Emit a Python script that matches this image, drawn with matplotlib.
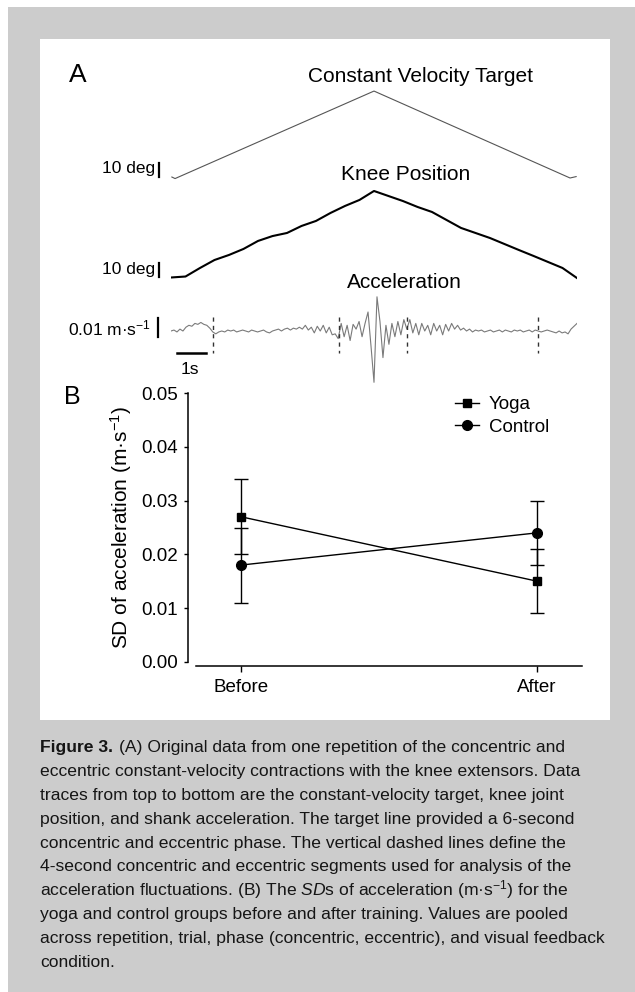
import numpy as np
import matplotlib
matplotlib.use('Agg')
import matplotlib.pyplot as plt
from matplotlib.patches import Rectangle
from matplotlib.lines import Line2D

plt.rcParams['font.family'] = ['Liberation Sans', 'DejaVu Sans']
plt.rcParams['mathtext.fontset'] = 'custom'
plt.rcParams['mathtext.rm'] = 'Liberation Sans'
plt.rcParams['mathtext.it'] = 'Liberation Sans:italic'
plt.rcParams['mathtext.bf'] = 'Liberation Sans:bold'

# ---------------- data: panel A ----------------
target_t = [0.03, 0.14, 7.0, 13.76, 13.97]          # s
target_deg = [0.7, -0.4, 62.1, 0.0, 1.0]            # deg

knee_dt = 0.5                                       # s
knee_deg = [0, 0.7, 6.8, 12.5, 16.1, 20.4, 26.1, 29.6, 31.8, 36.8, 40.4,
            46.1, 51.1, 55.4, 61.8, 58.2, 54.6, 50.4, 46.8, 41.1, 35.4,
            31.8, 28.2, 23.9, 19.6, 15.4, 11.1, 6.8, -0.4]

# acceleration in units of 0.001 m/s^2
accel = [0, 0.5, -0.5, 1, 0, 2, 3, 2.5, 4, 3.5, 4.5, 3.5, 3, 1.5,
         -0.5, -1.5, -0.5, 0, -0.5, 0.5, 0, 0.5, -0.5, 0, 0.5, 0, -0.5, 0.5, 0,
         -0.5, 0, 0.5, -0.5, -1, 0,
         0.5, 1, 0, 1, 1.5, 0.5, 1.5, 1, 2, 1, 3,
         0.5, 2, -1, 2.5, 0, 3, -1, 2, -2, -1.5,
         -4, 4, -3, 3, -5, 3.5, 1, 5, -3, 4,
         10, -8, -27, 18, 5, -14, 3, -7, 4, -3, 5, -2, 6,
         1, 6, -1, 4, -2, 4, 0, 3, -2, 4, 0, 3, -2, 3.5, 0, 4, 1, 3, 0.5,
         1.5, 0, 1, -0.5, 0.5, 0, 0.5, -0.5, 0, 0.5, -0.5, 0, 0.5, -0.5, 0.5,
         0, -0.5, 0.5, 0, 0.5, -0.5, 0, 0.5, -0.5, 0.5,
         0, -0.5, 0, 0.5, 0, -0.5, -1, 0, -1, -0.5, -1.5, 1, 2.5, 4]
accel_duration = 14.0                               # s
dash_times = [1.45, 5.8, 8.15, 12.65]               # s

# ---------------- data: panel B ----------------
conditions = ['Before', 'After']
groups = ['Yoga', 'Control']
yoga_mean = [0.027, 0.015]
yoga_err = [0.007, 0.006]
control_mean = [0.018, 0.024]
control_err = [0.007, 0.006]
yticks = [0.00, 0.01, 0.02, 0.03, 0.04, 0.05]

caption_head = 'Figure 3.'
caption_lines = [
    '(A) Original data from one repetition of the concentric and',
    'eccentric constant-velocity contractions with the knee extensors. Data',
    'traces from top to bottom are the constant-velocity target, knee joint',
    'position, and shank acceleration. The target line provided a 6-second',
    'concentric and eccentric phase. The vertical dashed lines define the',
    '4-second concentric and eccentric segments used for analysis of the',
    r'acceleration fluctuations. (B) The $\mathit{SD}$s of acceleration (m·s$^{-1}$) for the',
    'yoga and control groups before and after training. Values are pooled',
    'across repetition, trial, phase (concentric, eccentric), and visual feedback',
    'condition.',
]

# ---------------- figure ----------------
W, H = 635, 992
fig = plt.figure(figsize=(W / 100, H / 100), dpi=100, facecolor='white')


def fx(p):
    return p / W


def fy(p):
    return 1 - p / H


def box(x0, y0, x1, y1):
    return [fx(x0), fy(y1), fx(x1) - fx(x0), fy(y0) - fy(y1)]


fig.patches.append(Rectangle((fx(8), 0), 1 - fx(8), fy(7), transform=fig.transFigure,
                             facecolor='#cccccc', edgecolor='none', zorder=-20))
fig.patches.append(Rectangle((fx(40), fy(720)), fx(610) - fx(40), fy(39) - fy(720),
                             transform=fig.transFigure, facecolor='white',
                             edgecolor='none', zorder=-19))

# ---- Panel A ----
ax_t = fig.add_axes(box(171, 85, 577, 185))
ax_t.set_xlim(0, 14)
ax_t.set_ylim(-5.0, 66.43)
ax_t.axis('off')
ax_t.plot(target_t, target_deg, color='#555555', lw=0.8)
ax_t.plot([-0.43, -0.43], [0.5, 10.5], color='black', lw=1.6, clip_on=False)

ax_k = fig.add_axes(box(171, 185, 577, 285))
ax_k.set_xlim(0, 14)
ax_k.set_ylim(-5.36, 66.07)
ax_k.axis('off')
knee_t = np.arange(len(knee_deg)) * knee_dt
ax_k.plot(knee_t, knee_deg, color='black', lw=1.5)
ax_k.plot([-0.43, -0.43], [0.3, 10.3], color='black', lw=1.6, clip_on=False)

ax_a = fig.add_axes(box(171, 290, 577, 390))
ax_a.set_xlim(0, 14)
ax_a.set_ylim(-31.05, 21.58)
ax_a.axis('off')
accel_t = np.linspace(0, accel_duration, len(accel))
ax_a.plot(accel_t, accel, color='#7a7a7a', lw=0.8)
for dt in dash_times:
    ax_a.plot([dt, dt], [7.4, -11.6], color='#333333', lw=1.0, dashes=(3, 3))
ax_a.plot([-0.45, -0.45], [-3.2, 6.8], color='black', lw=1.6, clip_on=False)
ax_a.plot([0.2, 1.2], [-11.6, -11.6], color='black', lw=1.8, clip_on=False)
ax_a.text(0.66, -20, '1s', fontsize=12.5, ha='center', va='center')

fig.text(fx(78), fy(75), 'A', fontsize=19, ha='center', va='center')
fig.text(fx(420), fy(76), 'Constant Velocity Target', fontsize=15, ha='center', va='center')
fig.text(fx(406), fy(174), 'Knee Position', fontsize=15, ha='center', va='center')
fig.text(fx(404), fy(282), 'Acceleration', fontsize=15, ha='center', va='center')
fig.text(fx(155), fy(169), '10 deg', fontsize=12.5, ha='right', va='center')
fig.text(fx(155), fy(269), '10 deg', fontsize=12.5, ha='right', va='center')
fig.text(fx(151), fy(328), r'0.01 m·s$^{-1}$', fontsize=12.5, ha='right', va='center')

# ---- Panel B ----
axb = fig.add_axes(box(188, 393.3, 582, 661.7))
xpos = np.arange(len(conditions))
axb.errorbar(xpos, yoga_mean, yerr=yoga_err, marker='s', ms=6, color='black', lw=1.0,
             elinewidth=1.0, capsize=5, capthick=1.0, zorder=3)
axb.errorbar(xpos, control_mean, yerr=control_err, marker='o', ms=7, color='black', lw=1.0,
             elinewidth=1.0, capsize=5, capthick=1.0, zorder=3)
axb.set_xlim(-0.179, 1.152)
axb.set_ylim(0, 0.05)
axb.patch.set_alpha(0)
for s in ['top', 'right']:
    axb.spines[s].set_visible(False)
axb.spines['left'].set_bounds(0, 0.05)
axb.spines['bottom'].set_bounds(-0.152, 1.152)
axb.spines['bottom'].set_position(('outward', 3.1))
for s in ['left', 'bottom']:
    axb.spines[s].set_linewidth(1.1)
axb.set_yticks(yticks)
axb.set_yticklabels([f'{v:.2f}' for v in yticks])
axb.set_xticks(xpos)
axb.set_xticklabels(conditions)
axb.tick_params(axis='y', direction='out', length=2.7, width=1.0, pad=4.5, labelsize=13.5)
axb.tick_params(axis='x', direction='out', length=4.3, width=1.0, pad=5, labelsize=13.5)

fig.text(fx(121), fy(527), r'SD of acceleration (m·s$^{-1}$)', fontsize=15,
         rotation=90, ha='center', va='center')
fig.text(fx(72), fy(397), 'B', fontsize=18, ha='center', va='center')

handles = [Line2D([], [], color='black', marker='s', ms=6, lw=1.0),
           Line2D([], [], color='black', marker='o', ms=7, lw=1.0)]
axb.legend(handles, groups, loc='upper left', bbox_to_anchor=(fx(455), fy(396)),
           bbox_transform=fig.transFigure, frameon=False, borderpad=0, borderaxespad=0,
           handlelength=1.3, handletextpad=0.5, labelspacing=0.3, fontsize=13.5)

# ---- Caption ----
cap_kw = dict(fontsize=12.6, color='#151515')
head = fig.text(fx(40), fy(752), caption_head, ha='left', va='baseline',
                fontweight='bold', **cap_kw)
fig.canvas.draw()
for k, line in enumerate(caption_lines):
    if k == 0:
        axb.annotate(line, xy=(1, 0), xycoords=head, xytext=(4, 0),
                     textcoords='offset points', ha='left', va='bottom',
                     annotation_clip=False, **cap_kw)
    else:
        fig.text(fx(40), fy(752 + 23.9 * k), line, ha='left', va='baseline', **cap_kw)

fig.savefig('out.png', dpi=100, facecolor='white')
